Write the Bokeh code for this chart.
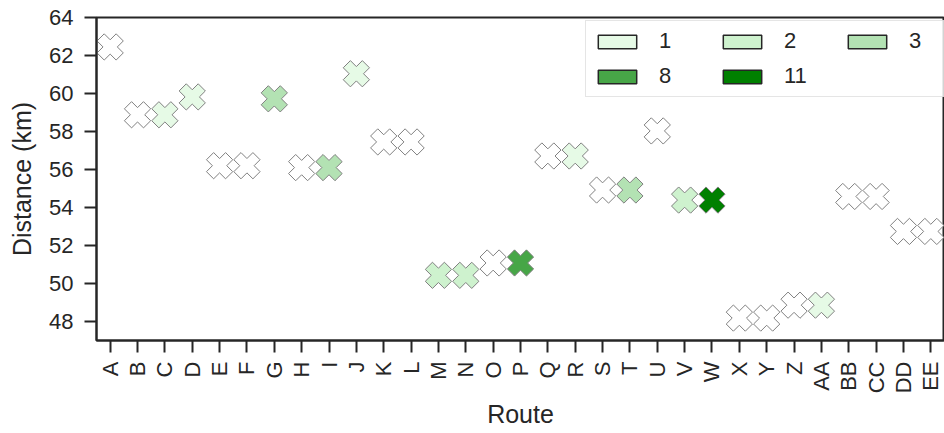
import math
from bokeh.plotting import figure
from bokeh.models import ColumnDataSource, FactorRange, Range1d, FixedTicker, Legend, LegendItem
from bokeh.embed import file_html
from bokeh.resources import INLINE

routes = ["A", "B", "C", "D", "E", "F", "G", "H", "I", "J", "K", "L", "M", "N", "O",
          "P", "Q", "R", "S", "T", "U", "V", "W", "X", "Y", "Z", "AA", "BB", "CC", "DD", "EE"]
distance = [62.45, 58.88, 58.88, 59.82, 56.2, 56.2, 59.72, 56.1, 56.1, 61.04, 57.45, 57.45,
            50.43, 50.43, 51.08, 51.08, 56.71, 56.71, 54.92, 54.92, 58.03, 54.39, 54.39,
            48.18, 48.18, 48.86, 48.86, 54.58, 54.58, 52.74, 52.74]
count = [0, 0, 1, 1, 0, 0, 3, 0, 3, 1, 0, 0, 2, 2, 0, 8, 0, 1, 0, 3, 0, 2, 11,
         0, 0, 0, 1, 0, 0, 0, 0]
legend_levels = [1, 2, 3, 8, 11]
level_colors = ["#e6fae6", "#cef2ce", "#b3e2b3", "#47a647", "#008000"]
y_ticks = [48, 50, 52, 54, 56, 58, 60, 62, 64]

color_map = {0: "#ffffff"}
color_map.update(dict(zip(legend_levels, level_colors)))
fills = [color_map[c] for c in count]

src = ColumnDataSource(dict(route=routes, distance=distance, fill=fills))

TXT = "#262626"
FONT = "Liberation Sans"

p = figure(x_range=FactorRange(*routes, range_padding=0), y_range=Range1d(47, 64),
           width=944, height=433, output_backend="svg", toolbar_location=None,
           min_border_left=96, min_border_right=0, min_border_top=17, min_border_bottom=93)

p.scatter("route", "distance", source=src, marker="plus", size=27, angle=math.pi / 4,
          fill_color="fill", line_color="#808080", line_width=1)

p.xgrid.visible = False
p.ygrid.visible = False
p.outline_line_color = TXT
p.outline_line_width = 2

for ax in (p.xaxis[0], p.yaxis[0]):
    ax.axis_line_color = TXT
    ax.axis_line_width = 2
    ax.major_tick_line_color = TXT
    ax.major_tick_line_width = 2
    ax.major_tick_in = 0
    ax.major_tick_out = 12
    ax.minor_tick_line_color = None
    ax.major_label_text_font = FONT
    ax.major_label_text_font_size = "22px"
    ax.major_label_text_color = TXT
    ax.axis_label_text_font = FONT
    ax.axis_label_text_font_size = "25px"
    ax.axis_label_text_font_style = "normal"
    ax.axis_label_text_color = TXT

p.yaxis.ticker = FixedTicker(ticks=y_ticks)
p.yaxis.axis_label = "Distance (km)"
p.yaxis.major_label_standoff = 11
p.yaxis.axis_label_standoff = 10
p.xaxis.axis_label = "Route"
p.xaxis.major_label_orientation = math.pi / 2
p.xaxis.major_label_standoff = 9
p.xaxis.axis_label_standoff = 4

nan = float("nan")
items = []
for lvl, col in zip(legend_levels, level_colors):
    r = p.quad(left=[nan], right=[nan], top=[nan], bottom=[nan], fill_color=col,
               line_color=TXT, line_width=1.5)
    items.append(LegendItem(label=str(lvl), renderers=[r]))

legend = Legend(items=items, location=(489, 243), orientation="horizontal", ncols=3,
                glyph_width=48, glyph_height=17, label_standoff=18,
                label_text_font=FONT, label_text_font_size="22px", label_text_color=TXT,
                label_width=50, spacing=9, padding=7, margin=0,
                border_line_color="#cccccc", border_line_width=1.5,
                background_fill_color="white", background_fill_alpha=0.8)
p.add_layout(legend, "center")

open("out.html", "w").write(file_html(p, INLINE))
